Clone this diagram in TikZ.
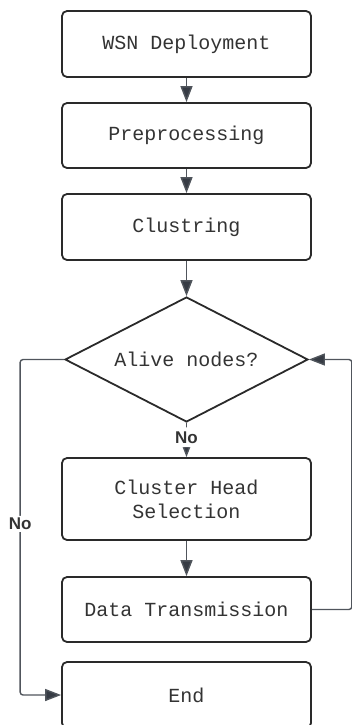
\documentclass[tikz,border=0pt]{standalone}
\usepackage{fontspec}
\setmainfont{Liberation Sans}
\setmonofont{Liberation Mono}
\usetikzlibrary{arrows.meta}
\usetikzlibrary{shapes.geometric}

\definecolor{boxline}{HTML}{2A2A2A}
\definecolor{linkline}{HTML}{50555C}
\definecolor{tipfill}{HTML}{363B44}
\definecolor{txt}{HTML}{333333}

\tikzset{
	stepbox/.style={draw=boxline, line width=1.8pt, rounded corners=5pt,
		minimum width=249pt, text=txt, align=center,
		font=\ttfamily\fontsize{20}{24}\selectfont},
	decision/.style={diamond, aspect=1.94, draw=boxline, line width=1.8pt,
		minimum width=243pt, minimum height=125pt, inner sep=0pt,
		text=txt, font=\ttfamily\fontsize{20}{24}\selectfont},
	link/.style={draw=linkline, line width=1.4pt, rounded corners=3pt,
		-{Triangle[length=16pt,width=12pt,fill=tipfill]}},
	answer/.style={fill=white, text=txt, inner sep=2pt,
		font=\bfseries\fontsize{17}{20}\selectfont}
}

\begin{document}
\begin{tikzpicture}[x=1pt, y=-1pt]
	\useasboundingbox (0,0) rectangle (352,725);
	%% The steps
	\node[stepbox, minimum height=66pt] (deploy) at (186.5,44) {WSN Deployment};
	\node[stepbox, minimum height=65pt] (prep) at (186.5,135.5) {Preprocessing};
	\node[stepbox, minimum height=66pt] (clust) at (186.5,227) {Clustring};
	\node[decision] (alive) at (186.5,359.5) {Alive nodes?};
	\node[stepbox, minimum height=82pt] (chsel) at (186.5,499)
		{Cluster Head\\Selection};
	\node[stepbox, minimum height=65pt] (data) at (186.5,609.5) {Data Transmission};
	\node[stepbox, minimum height=66pt] (finish) at (186.5,695) {End};
	%% The links
	\draw[link] (deploy) -- (prep);
	\draw[link] (prep) -- (clust);
	\draw[link] (clust) -- (alive);
	\draw[link] (alive.south) -- node[answer, pos=0.42, inner ysep=4pt] {No}
		(chsel.north);
	\draw[link] (chsel) -- (data);
	\draw[link] (alive.west) -- ++(-44,0) |- (finish.west)
		node[answer, pos=0.245] {No};
	\draw[link] (data.east) -- ++(40,0) |- (alive.east);
\end{tikzpicture}
\end{document}
